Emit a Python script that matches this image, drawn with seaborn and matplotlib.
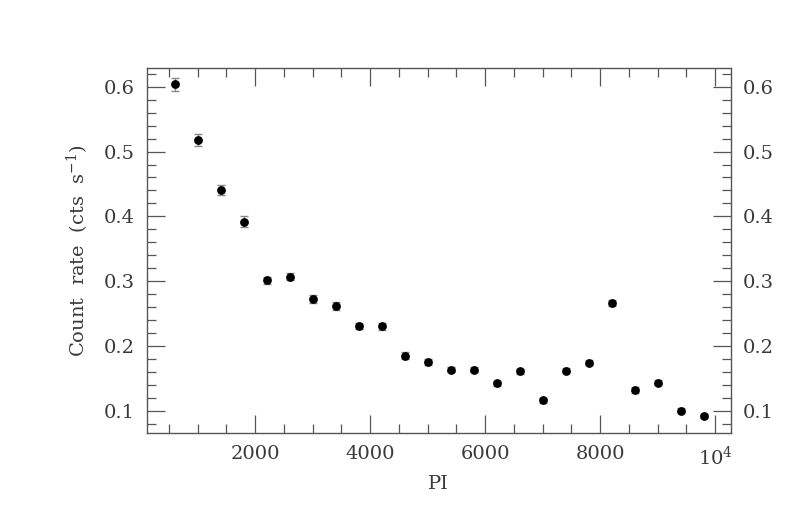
import numpy as np
import pandas as pd
import matplotlib
matplotlib.use("Agg")
import matplotlib.pyplot as plt
import seaborn as sns
from matplotlib.ticker import MultipleLocator, FuncFormatter

# 数据
pi_values = [600, 1000, 1400, 1800, 2200, 2600, 3000, 3400, 3800, 4200, 4600, 5000,
             5400, 5800, 6200, 6600, 7000, 7400, 7800, 8200, 8600, 9000, 9400, 9800]
count_rate = [0.604, 0.518, 0.441, 0.392, 0.301, 0.307, 0.272, 0.261, 0.231, 0.230, 0.185, 0.175,
              0.163, 0.163, 0.142, 0.161, 0.116, 0.162, 0.174, 0.266, 0.132, 0.143, 0.100, 0.092]
rate_err = [0.010, 0.009, 0.008, 0.008, 0.006, 0.006, 0.006, 0.006, 0.005, 0.005, 0.005, 0.005,
            0.004, 0.004, 0.004, 0.004, 0.004, 0.004, 0.004, 0.005, 0.004, 0.004, 0.004, 0.003]

df = pd.DataFrame({"PI": pi_values, "rate": count_rate, "err": rate_err})

sns.set_style("ticks")
plt.rcParams['font.family'] = ['DejaVu Serif']
plt.rcParams['mathtext.fontset'] = 'dejavuserif'

fig = plt.figure(figsize=(7.97, 5.2), dpi=100)
ax = fig.add_axes([0.1844, 0.1679, 0.7324, 0.7013])

text_color = "#3a3a3a"
axis_color = "#555555"

ax.errorbar(df["PI"], df["rate"], yerr=df["err"], fmt="none", ecolor="#888888",
            elinewidth=1.0, capsize=3, capthick=1.0, zorder=2)
sns.scatterplot(data=df, x="PI", y="rate", ax=ax, color="black", s=40,
                edgecolor="black", linewidth=0, zorder=3)

ax.set_xlim(120, 10270)
ax.set_ylim(0.066, 0.629)

ax.xaxis.set_major_locator(MultipleLocator(2000))
ax.xaxis.set_minor_locator(MultipleLocator(500))
ax.yaxis.set_major_locator(MultipleLocator(0.1))
ax.yaxis.set_minor_locator(MultipleLocator(0.02))

def xfmt(v, pos):
    if v <= 0:
        return ""
    if abs(v - 10000) < 1:
        return r"$10^4$"
    return f"{int(v)}"

ax.xaxis.set_major_formatter(FuncFormatter(xfmt))
ax.yaxis.set_major_formatter(FuncFormatter(lambda v, p: f"{v:.1f}"))

ax.tick_params(which="both", direction="in", top=True, right=True,
               labelright=True, colors=axis_color, labelcolor=text_color,
               labelsize=14, width=0.9)
ax.tick_params(which="major", length=13, pad=9)
ax.tick_params(which="minor", length=6.5)
for sp in ax.spines.values():
    sp.set_color(axis_color)
    sp.set_linewidth(1.0)

ax.set_xlabel("PI", fontsize=14, color=text_color, labelpad=5)
ax.set_ylabel(r"Count  rate  (cts  s$^{-1}$)", fontsize=14, color=text_color, labelpad=9)

plt.savefig("out.png", dpi=100)
